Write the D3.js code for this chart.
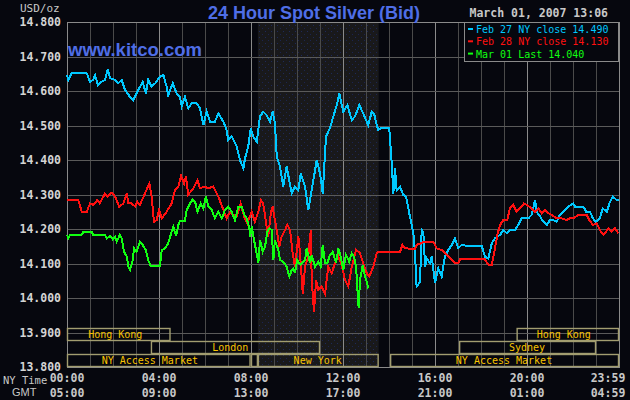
<!DOCTYPE html>
<html>
<head>
<meta charset="utf-8">
<script src="https://cdn.jsdelivr.net/npm/d3@7"></script>
<style>
  html, body { margin: 0; padding: 0; background: #06070e; }
  svg { display: block; }
  .mono { font-family: "DejaVu Sans Mono", monospace; }
</style>
</head>
<body>
<script>
// Zeitachse in Stunden (NY Zeit), Werte in USD/oz
var feb27 = [
  [0,14.646],[0.06,14.632],[0.2,14.651],[0.86,14.651],[1.0,14.627],[1.13,14.632],[1.22,14.646],[1.35,14.617],
  [1.51,14.627],[1.65,14.632],[1.77,14.663],[1.87,14.637],[2.09,14.632],[2.22,14.622],[2.38,14.632],[2.52,14.603],
  [2.74,14.583],[2.88,14.574],[3.10,14.603],[3.29,14.627],[3.43,14.593],[3.53,14.632],[3.68,14.613],[3.83,14.622],
  [4.04,14.641],[4.19,14.646],[4.33,14.613],[4.40,14.588],[4.60,14.622],[4.77,14.593],[4.91,14.583],[4.99,14.555],
  [5.13,14.583],[5.27,14.550],[5.42,14.564],[5.64,14.564],[5.78,14.550],[5.93,14.501],[6.07,14.540],[6.22,14.511],
  [6.43,14.511],[6.58,14.535],[6.80,14.511],[6.94,14.487],[7.01,14.458],[7.16,14.468],[7.38,14.439],[7.52,14.400],
  [7.67,14.376],[7.74,14.405],[7.88,14.439],[7.99,14.492],[8.10,14.468],[8.25,14.453],[8.39,14.526],[8.53,14.540],
  [8.68,14.530],[8.83,14.511],[8.94,14.540],[9.04,14.506],[9.12,14.410],[9.26,14.381],[9.40,14.323],[9.55,14.381],
  [9.77,14.303],[9.91,14.323],[10.06,14.313],[10.16,14.361],[10.35,14.323],[10.49,14.255],[10.64,14.313],[10.86,14.400],
  [11.00,14.361],[11.12,14.303],[11.26,14.468],[11.43,14.492],[11.58,14.526],[11.75,14.564],[11.84,14.593],[12.01,14.540],
  [12.19,14.559],[12.38,14.516],[12.52,14.526],[12.71,14.559],[12.88,14.535],[13.10,14.501],[13.25,14.540],[13.35,14.535],
  [13.43,14.511],[13.53,14.487],[13.64,14.492],[14.01,14.492],[14.12,14.390],[14.19,14.303],[14.26,14.376],[14.33,14.313],
  [14.48,14.323],[14.62,14.299],[14.74,14.294],[14.88,14.246],[15.06,14.188],[15.13,14.130],[15.20,14.033],[15.35,14.047],
  [15.42,14.197],[15.49,14.192],[15.57,14.091],[15.64,14.115],[15.78,14.101],[15.86,14.120],[16.00,14.043],[16.14,14.086],
  [16.29,14.062],[16.43,14.120],[16.58,14.139],[16.73,14.154],[16.87,14.173],[17.01,14.144],[17.16,14.154],[17.30,14.152],
  [18.03,14.152],[18.17,14.120],[18.32,14.115],[18.47,14.159],[18.61,14.173],[18.83,14.183],[18.97,14.197],[19.12,14.188],
  [19.26,14.197],[19.48,14.197],[19.62,14.212],[19.77,14.231],[20.06,14.231],[20.20,14.241],[20.35,14.284],[20.42,14.250],
  [20.57,14.236],[20.71,14.221],[20.86,14.212],[21.00,14.226],[21.14,14.226],[21.29,14.221],[21.43,14.241],[21.58,14.250],
  [21.80,14.265],[22.01,14.274],[22.09,14.265],[22.45,14.265],[22.57,14.250],[22.74,14.250],[22.86,14.231],[23.00,14.221],
  [23.17,14.231],[23.29,14.260],[23.47,14.250],[23.61,14.279],[23.73,14.294],[23.90,14.284],[23.98,14.284]
];

var feb28 = [
  [0,14.284],[0.49,14.284],[0.64,14.250],[0.86,14.250],[1.00,14.274],[1.14,14.270],[1.32,14.284],[1.43,14.274],
  [1.65,14.303],[1.75,14.294],[1.94,14.305],[2.09,14.294],[2.27,14.265],[2.45,14.274],[2.60,14.303],[2.67,14.274],
  [2.81,14.274],[2.96,14.265],[3.06,14.279],[3.17,14.270],[3.39,14.303],[3.58,14.332],[3.68,14.294],[3.78,14.221],
  [3.90,14.226],[4.00,14.255],[4.12,14.231],[4.33,14.250],[4.55,14.274],[4.70,14.313],[4.84,14.323],[4.96,14.354],
  [5.09,14.332],[5.17,14.352],[5.27,14.299],[5.49,14.318],[5.67,14.342],[5.78,14.318],[6.00,14.323],[6.14,14.318],
  [6.36,14.323],[6.58,14.294],[6.80,14.255],[6.94,14.231],[7.09,14.250],[7.23,14.241],[7.38,14.236],[7.55,14.274],
  [7.70,14.236],[7.84,14.216],[8.03,14.250],[8.17,14.221],[8.32,14.250],[8.43,14.284],[8.53,14.274],[8.68,14.207],
  [8.75,14.178],[8.86,14.246],[8.94,14.265],[9.04,14.226],[9.12,14.197],[9.23,14.149],[9.33,14.178],[9.48,14.197],
  [9.58,14.212],[9.70,14.197],[9.81,14.130],[9.91,14.091],[10.06,14.178],[10.13,14.130],[10.25,14.013],[10.35,14.091],
  [10.49,14.120],[10.60,14.197],[10.64,14.052],[10.74,13.960],[10.83,14.052],[10.93,14.023],[11.07,14.033],[11.22,14.013],
  [11.36,14.091],[11.51,14.072],[11.65,14.101],[11.80,14.120],[11.94,14.096],[12.09,14.052],[12.23,14.033],[12.38,14.091],
  [12.57,14.139],[12.74,14.130],[12.88,14.101],[13.03,14.072],[13.14,14.062],[13.32,14.091],[13.47,14.130],[13.53,14.134],
  [14.48,14.134],[14.58,14.154],[14.70,14.144],[15.13,14.142],[15.20,14.154],[15.42,14.159],[15.49,14.163],[15.93,14.163],
  [16.07,14.144],[16.29,14.139],[16.43,14.130],[16.58,14.120],[16.73,14.110],[16.87,14.101],[17.01,14.101],[17.09,14.112],
  [18.17,14.112],[18.32,14.096],[18.47,14.096],[18.61,14.144],[18.71,14.183],[18.83,14.212],[18.97,14.226],[19.14,14.226],
  [19.26,14.260],[19.40,14.270],[19.55,14.250],[19.70,14.260],[19.87,14.274],[19.99,14.270],[20.20,14.260],[20.35,14.250],
  [20.49,14.260],[20.64,14.246],[20.78,14.255],[20.93,14.246],[21.07,14.241],[21.29,14.231],[21.51,14.231],[21.73,14.226],
  [21.87,14.231],[22.01,14.231],[22.23,14.241],[22.59,14.241],[22.71,14.226],[22.86,14.212],[23.03,14.216],[23.17,14.197],
  [23.32,14.183],[23.43,14.192],[23.53,14.202],[23.68,14.192],[23.83,14.202],[23.98,14.187]
];

var mar01 = [
  [0,14.183],[0.06,14.173],[0.13,14.183],[0.64,14.183],[0.71,14.192],[1.07,14.192],[1.14,14.183],[1.65,14.183],
  [1.73,14.173],[1.87,14.180],[1.99,14.170],[2.09,14.178],[2.16,14.163],[2.30,14.183],[2.38,14.173],[2.48,14.134],
  [2.60,14.120],[2.67,14.091],[2.74,14.081],[2.86,14.110],[2.91,14.144],[3.03,14.134],[3.17,14.163],[3.29,14.154],
  [3.43,14.139],[3.53,14.110],[3.64,14.093],[4.04,14.093],[4.12,14.139],[4.26,14.144],[4.40,14.159],[4.51,14.183],
  [4.62,14.207],[4.74,14.180],[4.84,14.212],[4.91,14.223],[5.13,14.223],[5.20,14.255],[5.35,14.274],[5.47,14.286],
  [5.57,14.279],[5.67,14.250],[5.81,14.274],[5.93,14.260],[6.04,14.296],[6.14,14.265],[6.29,14.255],[6.43,14.231],
  [6.58,14.250],[6.73,14.231],[6.87,14.255],[7.01,14.265],[7.16,14.250],[7.30,14.226],[7.45,14.265],[7.60,14.265],
  [7.71,14.241],[7.81,14.231],[7.93,14.202],[7.96,14.178],[8.03,14.207],[8.13,14.168],[8.22,14.139],[8.32,14.101],
  [8.39,14.168],[8.51,14.134],[8.61,14.149],[8.71,14.192],[8.80,14.202],[8.90,14.197],[8.97,14.110],[9.04,14.168],
  [9.19,14.139],[9.26,14.110],[9.40,14.105],[9.55,14.091],[9.67,14.062],[9.77,14.081],[9.84,14.086],[9.91,14.072],
  [10.01,14.110],[10.16,14.096],[10.35,14.110],[10.42,14.144],[10.57,14.101],[10.64,14.125],[10.78,14.091],[10.93,14.105],
  [11.03,14.091],[11.12,14.154],[11.22,14.101],[11.32,14.101],[11.43,14.125],[11.55,14.134],[11.70,14.101],[11.80,14.144],
  [11.90,14.120],[12.01,14.081],[12.13,14.125],[12.27,14.105],[12.38,14.130],[12.48,14.120],[12.57,14.091],[12.62,14.033],
  [12.68,13.970],[12.74,14.052],[12.86,14.096],[12.96,14.062],[13.03,14.047],[13.10,14.028]
];

var yTicks = [13.8, 13.9, 14.0, 14.1, 14.2, 14.3, 14.4, 14.5, 14.6, 14.7, 14.8];
var hourTicks = [0, 4, 8, 12, 16, 20];
var nyLabels = ["00:00", "04:00", "08:00", "12:00", "16:00", "20:00", "23:59"];
var gmtLabels = ["05:00", "09:00", "13:00", "17:00", "21:00", "01:00", "04:59"];

var legendLabels = ["Feb 27 NY close 14.490", "Feb 28 NY close 14.130", "Mar 01 Last 14.040"];
var seriesColors = ["#00c8ff", "#ff1010", "#10ff10"];

// Handelsplätze: [Zeile, Start, Ende, Name, Textmitte]
var sessions = [
  [0, 0, 4.5, "Hong Kong", 2.1],
  [0, 19.55, 24, "Hong Kong", 21.6],
  [1, 3.65, 11.0, "London", 7.1],
  [1, 17.05, 23.0, "Sydney", 20.0],
  [2, 0, 7.98, "NY Access Market", 3.6],
  [2, 8.0, 8.3, "", 8.15],
  [2, 8.3, 13.55, "New York", 10.9],
  [2, 14.05, 24, "NY Access Market", 19.0]
];
var nyShade = [8.3, 13.55];

/// Body Werte (Namen nicht "top", das ist window.top)
var W = 630, H = 400;
var pLeft = 67, pRight = 619, pTop = 22, pBottom = 367;

var x = d3.scaleLinear().domain([0, 24]).range([pLeft, pRight]);
var y = d3.scaleLinear().domain([13.8, 14.8]).range([pBottom, pTop]);

var svg = d3.select("body").append("svg")
  .attr("width", W).attr("height", H);

svg.append("rect").attr("width", W).attr("height", H).attr("fill", "#06070e");

// Muster für die New York Zone
var defs = svg.append("defs");
var pat = defs.append("pattern").attr("id", "dots")
  .attr("width", 6).attr("height", 6).attr("patternUnits", "userSpaceOnUse");
pat.append("rect").attr("width", 6).attr("height", 6).attr("fill", "#19191b");
pat.append("rect").attr("x", 1).attr("y", 1).attr("width", 1).attr("height", 1).attr("fill", "#1e2a5a");
pat.append("rect").attr("x", 4).attr("y", 4).attr("width", 1).attr("height", 1).attr("fill", "#1c2550");

svg.append("rect")
  .attr("x", x(nyShade[0])).attr("y", pTop)
  .attr("width", x(nyShade[1]) - x(nyShade[0])).attr("height", pBottom - pTop)
  .attr("fill", "url(#dots)");

// vertikale Linien jede Stunde
svg.append("g").selectAll("line").data(d3.range(1, 24)).enter().append("line")
  .attr("x1", d => Math.round(x(d)) + 0.5).attr("x2", d => Math.round(x(d)) + 0.5)
  .attr("y1", pTop).attr("y2", pBottom)
  .attr("stroke", d => d % 4 === 0 ? "#8a8a8a" : "#4a4a4a")
  .attr("stroke-width", 1);

// Y Achse mit Gitter
var yAxis = svg.append("g")
  .attr("transform", "translate(" + pLeft + ",0)")
  .call(d3.axisLeft(y).tickValues(yTicks).tickFormat(d3.format(".3f"))
    .tickSize(-(pRight - pLeft)).tickPadding(6));
yAxis.select(".domain").remove();
yAxis.selectAll(".tick line").attr("stroke", "#5a5a5a").attr("shape-rendering", "crispEdges");
yAxis.selectAll(".tick text")
  .attr("fill", "#d4d4d4")
  .attr("font-family", "DejaVu Sans Mono, monospace")
  .attr("font-weight", "bold")
  .attr("font-size", 11.5);

// Rahmen
svg.append("rect")
  .attr("x", pLeft + 0.5).attr("y", pTop + 0.5)
  .attr("width", pRight - pLeft).attr("height", pBottom - pTop)
  .attr("fill", "none").attr("stroke", "#8a8a8a").attr("stroke-width", 1);

// Handelsplätze
var rowTop = [328, 341, 354], rowH = 12;
var sess = svg.append("g");
sess.selectAll("rect").data(sessions).enter().append("rect")
  .attr("x", d => x(d[1]) + 0.5).attr("y", d => rowTop[d[0]] + 0.5)
  .attr("width", d => x(d[2]) - x(d[1]) - 1).attr("height", rowH)
  .attr("fill", "none").attr("stroke", "#a29d70").attr("stroke-width", 1.4);
sess.selectAll("text").data(sessions).enter().append("text")
  .attr("x", d => x(d[4]))
  .attr("y", d => rowTop[d[0]] + rowH / 2 + 4)
  .attr("text-anchor", "middle")
  .attr("class", "mono")
  .attr("font-size", 10)
  .attr("fill", "#f8c400")
  .text(d => d[3]);

// Linien
var line = d3.line()
  .x(d => x(d[0]))
  .y(d => y(d[1]));

[feb27, feb28, mar01].forEach(function (s, i) {
  svg.append("path")
    .datum(s)
    .attr("d", line)
    .attr("fill", "none")
    .attr("stroke", seriesColors[i])
    .attr("stroke-width", 2)
    .attr("shape-rendering", "crispEdges");
});

// Legende
var lg = svg.append("g");
lg.append("rect").attr("x", 464.5).attr("y", 22.5).attr("width", 154).attr("height", 39)
  .attr("fill", "#06070e").attr("stroke", "#8a8a8a");
legendLabels.forEach(function (t, i) {
  lg.append("rect").attr("x", 468).attr("y", 28 + i * 12.3).attr("width", 5).attr("height", 2)
    .attr("fill", seriesColors[i]);
  lg.append("text").attr("x", 476).attr("y", 33 + i * 12.3)
    .attr("class", "mono").attr("font-size", 10)
    .attr("fill", seriesColors[i]).text(t);
});

// Texte oben
svg.append("text").attr("x", 314).attr("y", 18.5)
  .attr("text-anchor", "middle")
  .attr("font-family", "Liberation Sans, Arial, sans-serif")
  .attr("font-weight", "bold").attr("font-size", 18)
  .attr("fill", "#4f6ee6")
  .text("24 Hour Spot Silver (Bid)");

svg.append("text").attr("x", 68).attr("y", 56)
  .attr("font-family", "Liberation Sans, Arial, sans-serif")
  .attr("font-weight", "bold").attr("font-size", 18.5)
  .attr("fill", "#4f6ee6")
  .text("www.kitco.com");

svg.append("text").attr("x", 20).attr("y", 12)
  .attr("class", "mono").attr("font-size", 11).attr("fill", "#c8c8c8")
  .text("USD/oz");

svg.append("text").attr("x", 608).attr("y", 17)
  .attr("text-anchor", "end")
  .attr("class", "mono").attr("font-weight", "bold").attr("font-size", 11.5).attr("fill", "#c8c8c8")
  .text("March 01, 2007 13:06");

// Zeitachse unten
var tx = hourTicks.map(h => x(h)).concat([608]);
var bot = svg.append("g").attr("class", "mono").attr("font-weight", "bold")
  .attr("font-size", 11.5).attr("fill", "#c8c8c8").attr("text-anchor", "middle");
bot.selectAll("text.ny").data(nyLabels).enter().append("text")
  .attr("class", "ny").attr("x", (d, i) => tx[i]).attr("y", 382).text(d => d);
bot.selectAll("text.gmt").data(gmtLabels).enter().append("text")
  .attr("class", "gmt").attr("x", (d, i) => tx[i]).attr("y", 397).text(d => d);

svg.append("text").attr("x", 3).attr("y", 384)
  .attr("class", "mono").attr("font-size", 10.5).attr("fill", "#c8c8c8").text("NY Time");
svg.append("text").attr("x", 12).attr("y", 396)
  .attr("font-family", "Liberation Sans, Arial, sans-serif").attr("font-size", 11).attr("fill", "#c8c8c8").text("GMT");
</script>
</body>
</html>
